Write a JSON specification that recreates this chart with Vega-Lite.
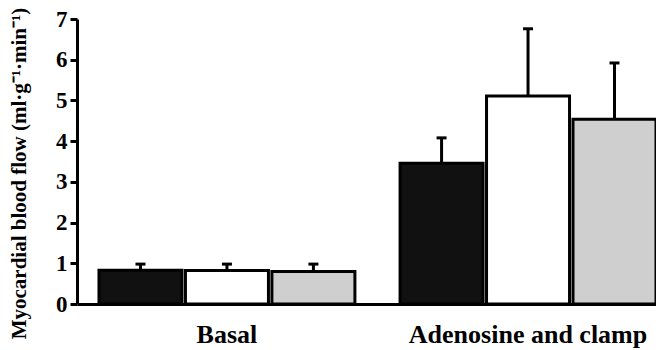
{
  "$schema": "https://vega.github.io/schema/vega-lite/v6.json",
  "autosize": {"type": "none"},
  "padding": {"left": 77, "top": 19, "right": 0, "bottom": 46},
  "width": 579,
  "height": 285,
  "background": "white",
  "config": {"view": {"stroke": null}},
  "data": {"values": [
    {"group": "Basal", "cond": "Group 1", "value": 0.83, "upper": 0.98},
    {"group": "Basal", "cond": "Group 2", "value": 0.82, "upper": 0.98},
    {"group": "Basal", "cond": "Group 3", "value": 0.80, "upper": 0.98},
    {"group": "Adenosine and clamp", "cond": "Group 1", "value": 3.46, "upper": 4.08},
    {"group": "Adenosine and clamp", "cond": "Group 2", "value": 5.11, "upper": 6.76},
    {"group": "Adenosine and clamp", "cond": "Group 3", "value": 4.54, "upper": 5.92}
  ]},
  "encoding": {
    "x": {
      "field": "group", "type": "nominal", "sort": ["Basal", "Adenosine and clamp"],
      "scale": {"paddingInner": 0.15, "paddingOuter": 0.0365, "align": 1},
      "axis": {
        "title": null, "labelAngle": 0, "ticks": false, "labelLimit": 0,
        "domainColor": "black", "domainWidth": 3,
        "labelFont": "Liberation Serif", "labelFontWeight": "bold", "labelFontSize": 26,
        "labelColor": "black", "labelPadding": 17
      }
    },
    "xOffset": {"field": "cond", "type": "nominal", "scale": {"paddingInner": 0.04, "paddingOuter": 0}}
  },
  "layer": [
    {
      "mark": {"type": "bar", "stroke": "black", "strokeWidth": 3},
      "encoding": {
        "y": {
          "field": "value", "type": "quantitative",
          "scale": {"domain": [0, 7], "nice": false},
          "axis": {
            "title": "Myocardial blood flow (ml·g⁻¹·min⁻¹)",
            "values": [0, 1, 2, 3, 4, 5, 6, 7],
            "grid": false,
            "domainColor": "black", "domainWidth": 3,
            "tickColor": "black", "tickWidth": 3, "tickSize": 7,
            "labelFont": "Liberation Serif", "labelFontWeight": "bold", "labelFontSize": 23,
            "labelColor": "black", "labelPadding": 3,
            "titleFont": "Liberation Serif", "titleFontWeight": "bold", "titleFontSize": 21,
            "titleColor": "black", "titleX": -58, "titleY": 154, "titleBaseline": "middle", "titleAngle": -90
          }
        },
        "fill": {"field": "cond", "type": "nominal", "legend": null,
          "scale": {"domain": ["Group 1", "Group 2", "Group 3"], "range": ["#111111", "#ffffff", "#cfcfcf"]}}
      }
    },
    {
      "mark": {"type": "rule", "color": "black", "strokeWidth": 3},
      "encoding": {
        "y": {"field": "value", "type": "quantitative"},
        "y2": {"field": "upper"}
      }
    },
    {
      "mark": {"type": "tick", "color": "black", "size": 10, "thickness": 3, "opacity": 1},
      "encoding": {
        "y": {"field": "upper", "type": "quantitative"}
      }
    }
  ]
}
